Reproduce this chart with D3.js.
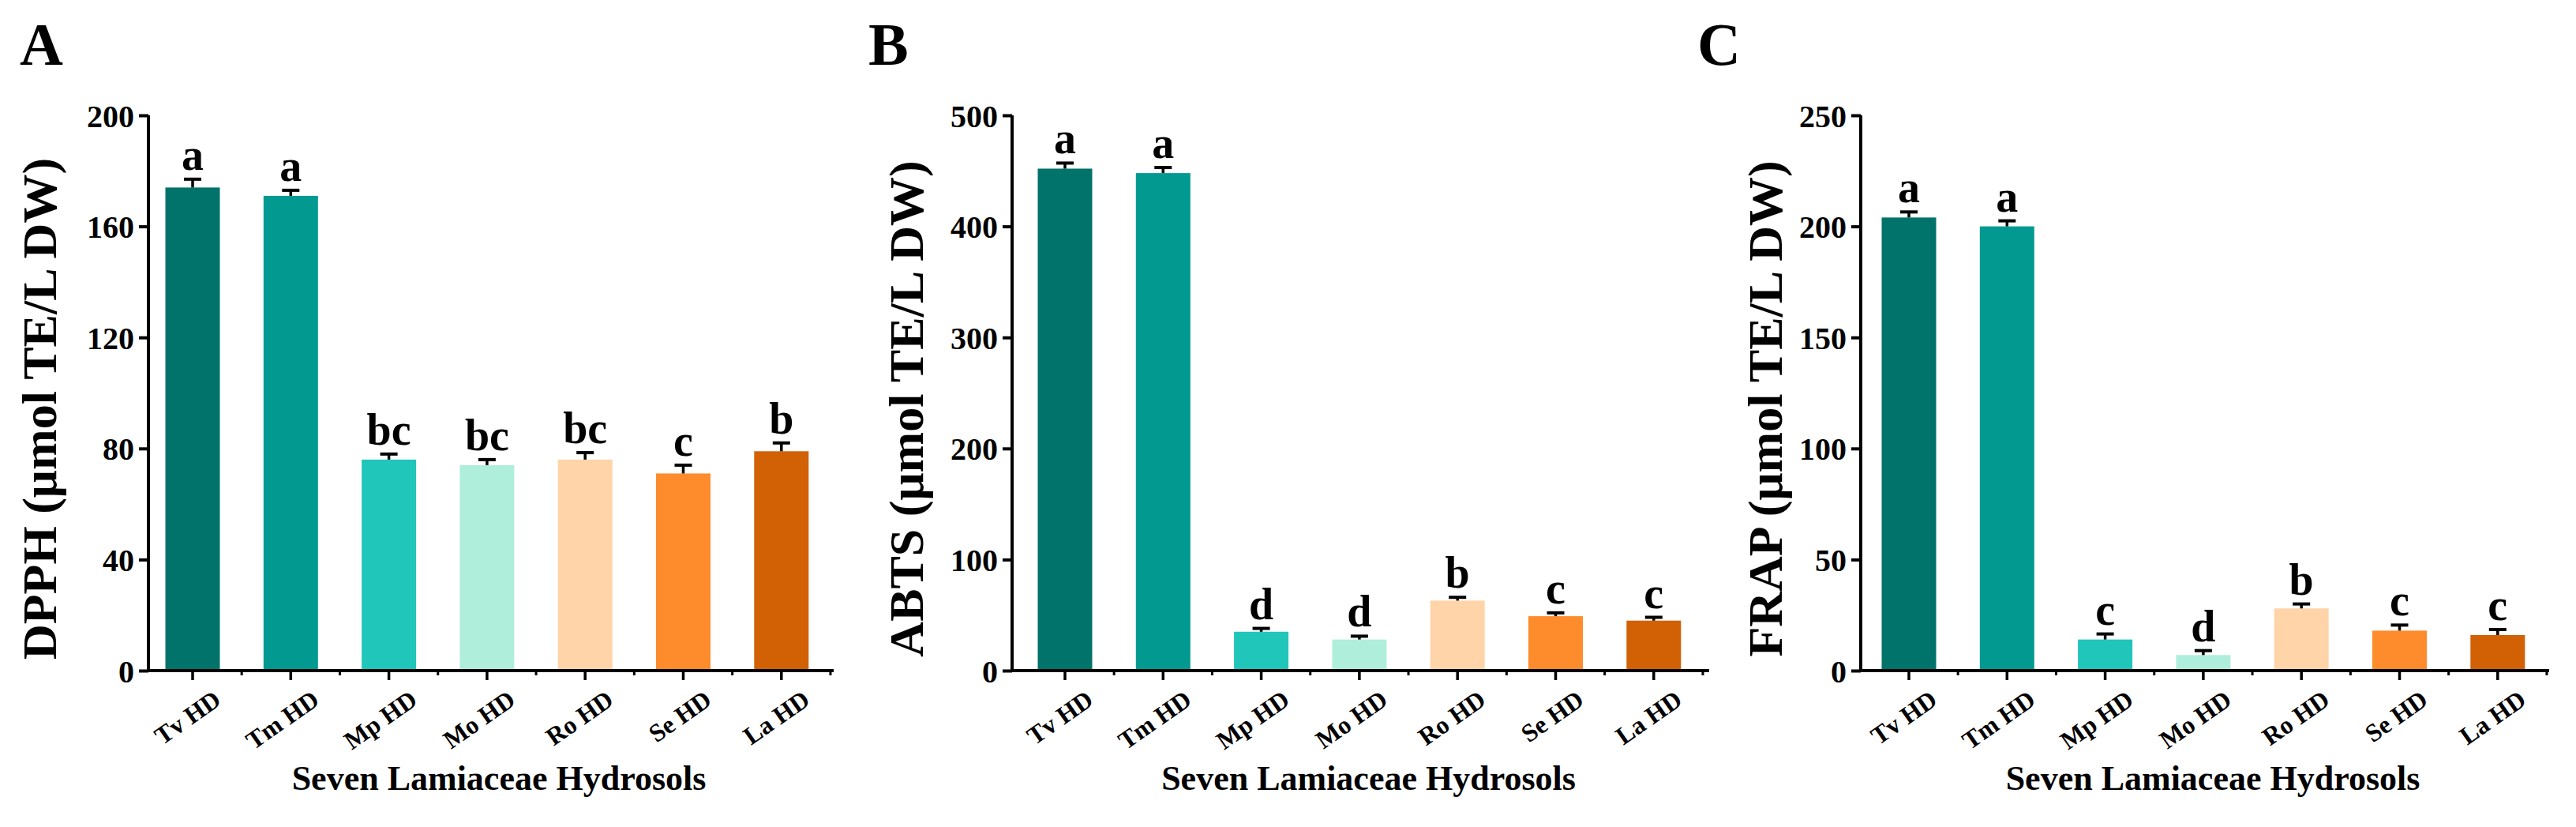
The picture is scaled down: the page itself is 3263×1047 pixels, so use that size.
<!DOCTYPE html>
<html><head><meta charset="utf-8">
<script src="https://cdn.jsdelivr.net/npm/d3@7"></script>
<style>body{margin:0;background:#fff}text{font-family:"Liberation Serif","Times New Roman",serif;font-weight:bold}</style>
</head><body><svg id="chart" width="3263" height="1047"></svg>
<script>
var categories = ["Tv HD","Tm HD","Mp HD","Mo HD","Ro HD","Se HD","La HD"];
var colors = ["#02736a","#029a90","#20c6ba","#b0eedc","#fed4a8","#fe8b2c","#d26105"];
var dpph = [174,171,76,74,76,71,79];
var dpphErr = [3,2,2,2,2.5,3,3];
var dpphSig = ["a","a","bc","bc","bc","c","b"];
var abts = [452,448,35,28,63,49,45];
var abtsErr = [5,5,3,3,3,3,3];
var abtsSig = ["a","a","d","d","b","c","c"];
var frap = [204,200,14,7,28,18,16];
var frapErr = [2.5,2.5,2.5,2,2,2.5,2.5];
var frapSig = ["a","a","c","d","b","c","c"];

var panels = [
  {letter:"A", lx:25, ax:188, first:244, end:1056, max:200, ticks:[0,40,80,120,160,200], label:"DPPH (μmol TE/L DW)", labx:49, v:dpph, e:dpphErr, s:dpphSig},
  {letter:"B", lx:1100, ax:1282, first:1349, end:2165, max:500, ticks:[0,100,200,300,400,500], label:"ABTS (μmol TE/L DW)", labx:1147, v:abts, e:abtsErr, s:abtsSig},
  {letter:"C", lx:2150, ax:2357, first:2418, end:3229, max:250, ticks:[0,50,100,150,200,250], label:"FRAP (μmol TE/L DW)", labx:2235, v:frap, e:frapErr, s:frapSig}
];

var svg = d3.select("#chart");
var y0 = 849, yTop = 146, step = 124.3, bw = 69;

panels.forEach(function(p){
  var g = svg.append("g");
  var y = d3.scaleLinear().domain([0,p.max]).range([y0,yTop]);
  var x = d3.scaleBand().domain(categories)
    .range([p.first - step/2, p.first - step/2 + step*7]).paddingInner(0);

  g.append("text").attr("x",p.lx).attr("y",82).attr("font-size",76).text(p.letter);

  // bars
  g.selectAll("rect").data(p.v).enter().append("rect")
    .attr("x",function(d,i){return x(categories[i]) + (step-bw)/2})
    .attr("y",function(d){return y(d)})
    .attr("width",bw).attr("height",function(d){return y0 - y(d)})
    .attr("fill",function(d,i){return colors[i]});

  // error bars
  p.v.forEach(function(d,i){
    var cx = x(categories[i]) + step/2;
    var top = y(d + p.e[i]);
    g.append("line").attr("x1",cx).attr("x2",cx).attr("y1",y(d)).attr("y2",top).attr("stroke","#000").attr("stroke-width",3.5);
    g.append("line").attr("x1",cx-11).attr("x2",cx+11).attr("y1",top).attr("y2",top).attr("stroke","#000").attr("stroke-width",4);
    g.append("text").attr("x",cx).attr("y",top-12).attr("text-anchor","middle").attr("font-size",56).text(p.s[i]);
  });

  // y axis
  var ya = g.append("g").attr("transform","translate("+p.ax+",0)")
    .call(d3.axisLeft(y).tickValues(p.ticks).tickSize(12).tickPadding(6));
  ya.select(".domain").attr("stroke-width",4).attr("d","M0,"+(y0+2)+"V"+yTop);
  ya.selectAll(".tick line").attr("stroke-width",4);
  ya.selectAll(".tick text").attr("font-size",40).attr("dy","0.35em").attr("font-family","Liberation Serif").attr("font-weight","bold");

  // x axis
  var xa = g.append("g").attr("transform","translate(0,"+y0+")")
    .call(d3.axisBottom(x).tickSize(12).tickSizeOuter(0).tickPadding(4));
  xa.select(".domain").attr("stroke-width",4).attr("d","M"+p.ax+",0H"+p.end);
  xa.selectAll(".tick line").attr("stroke-width",3.5);
  xa.selectAll(".tick text").attr("font-size",32).attr("font-family","Liberation Serif").attr("font-weight","bold")
    .attr("text-anchor","end").attr("dy","0.7em")
    .attr("transform","translate(16,10) rotate(-35)");
  // minor ticks between bars
  d3.range(1,8).forEach(function(k){
    var mx = p.first - step/2 + step*k;
    if (mx < p.end) g.append("line").attr("x1",mx).attr("x2",mx).attr("y1",y0).attr("y2",y0+6).attr("stroke","#000").attr("stroke-width",3);
  });

  g.append("text").attr("x",(p.ax+p.end)/2+10).attr("y",1000).attr("text-anchor","middle").attr("font-size",44).text("Seven Lamiaceae Hydrosols");
  g.append("text").attr("transform","translate("+(p.labx+22)+","+((y0+yTop)/2+20)+") rotate(-90)")
    .attr("text-anchor","middle").attr("font-size",62).text(p.label);
});
</script></body></html>
